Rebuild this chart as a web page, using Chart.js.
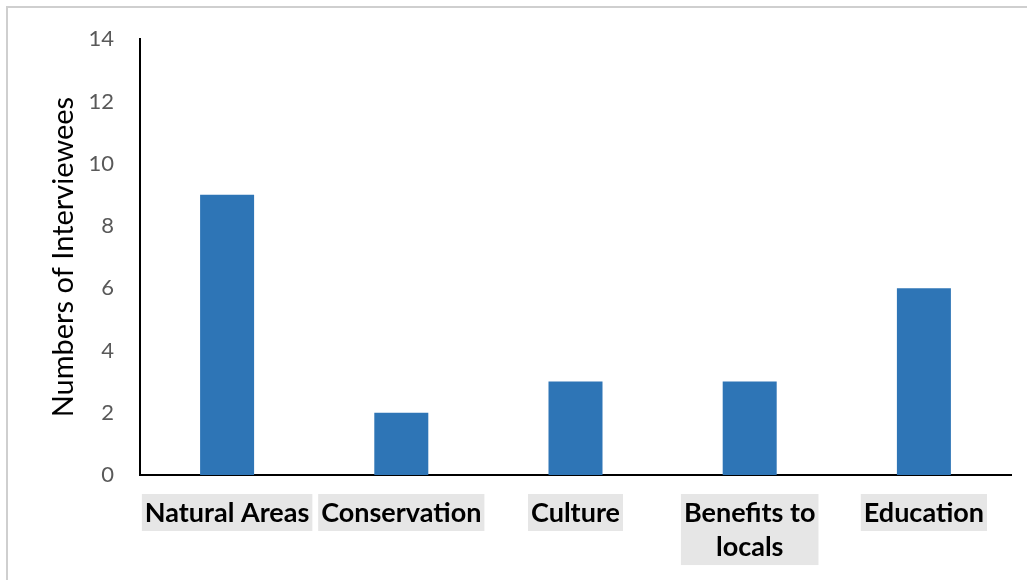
<!DOCTYPE html>
<html>
<head>
<meta charset="utf-8">
<script src="https://cdn.jsdelivr.net/npm/chart.js@4.4.1/dist/chart.umd.min.js"></script>
<style>
  html, body { margin: 0; padding: 0; background: #fff; overflow: hidden; }
  #frame { position: absolute; left: 6px; top: 6px; width: 1100px; height: 700px; border-left: 2px solid #cfcfcf; border-top: 2px solid #cfcfcf; }
  #wrap { position: absolute; left: 0; top: 0; width: 1027px; height: 580px; }
</style>
</head>
<body>
<div id="frame"></div>
<div id="wrap"><canvas id="barChart"></canvas></div>
<script>
const categories = ['Natural Areas', 'Conservation', 'Culture', ['Benefits to', 'locals'], 'Education'];
const interviewees = [9, 2, 3, 3, 6];
const yTicks = [0, 2, 4, 6, 8, 10, 12, 14];

const labelFont = { family: 'Lato', size: 27, weight: 'bold', lineHeight: 1.26 };
const labelPad = 21;

// grey boxes behind the category labels (chart.js draws one backdrop per line, which hides multi-line text)
const labelBoxes = {
    id: 'labelBoxes',
    beforeDraw(chart) {
        const scale = chart.scales.x;
        const c = chart.ctx;
        const lh = labelFont.size * labelFont.lineHeight;
        c.save();
        c.font = `bold ${labelFont.size}px ${labelFont.family}`;
        c.fillStyle = '#e6e6e6';
        scale.ticks.forEach((t, i) => {
            const lines = [].concat(categories[i]);
            const w = Math.max(...lines.map(l => c.measureText(l).width)) + 6;
            const x = scale.getPixelForTick(i);
            const top = scale.top + labelPad - 2;
            c.fillRect(x - w / 2, top, w, lines.length * lh + 3);
        });
        c.restore();
    }
};

const ctx = document.getElementById('barChart').getContext('2d');

new Chart(ctx, {
    type: 'bar',
    data: {
        labels: categories,
        datasets: [{
            label: 'Numbers of Interviewees',
            data: interviewees,
            backgroundColor: '#2e75b6',
            borderWidth: 0,
            barPercentage: 0.62,
            categoryPercentage: 0.5
        }]
    },
    options: {
        responsive: true,
        maintainAspectRatio: false,
        animation: false,
        layout: { padding: { top: 37, right: 16, left: 0, bottom: 0 } },
        plugins: { legend: { display: false }, tooltip: { enabled: false } },
        scales: {
            x: {
                grid: { display: false, drawTicks: false },
                border: { display: true, color: '#000', width: 2 },
                ticks: {
                    color: '#000',
                    font: labelFont,
                    padding: labelPad,
                    maxRotation: 0,
                    autoSkip: false
                },
                afterFit: scale => { scale.height = 105; }
            },
            y: {
                min: 0,
                max: 14,
                grid: { display: false, drawTicks: false },
                border: { display: true, color: '#000', width: 2 },
                ticks: {
                    stepSize: 2,
                    color: '#595959',
                    font: { family: 'Lato', size: 22 },
                    padding: 26,
                    callback: (v) => yTicks.includes(v) ? v : ''
                },
                title: {
                    display: true,
                    text: 'Numbers of Interviewees',
                    color: '#000',
                    font: { family: 'Lato', size: 29 },
                    padding: { top: 46, bottom: 0 }
                },
                afterFit: scale => { scale.width = 140; }
            }
        }
    },
    plugins: [labelBoxes]
});
</script>
</body>
</html>
